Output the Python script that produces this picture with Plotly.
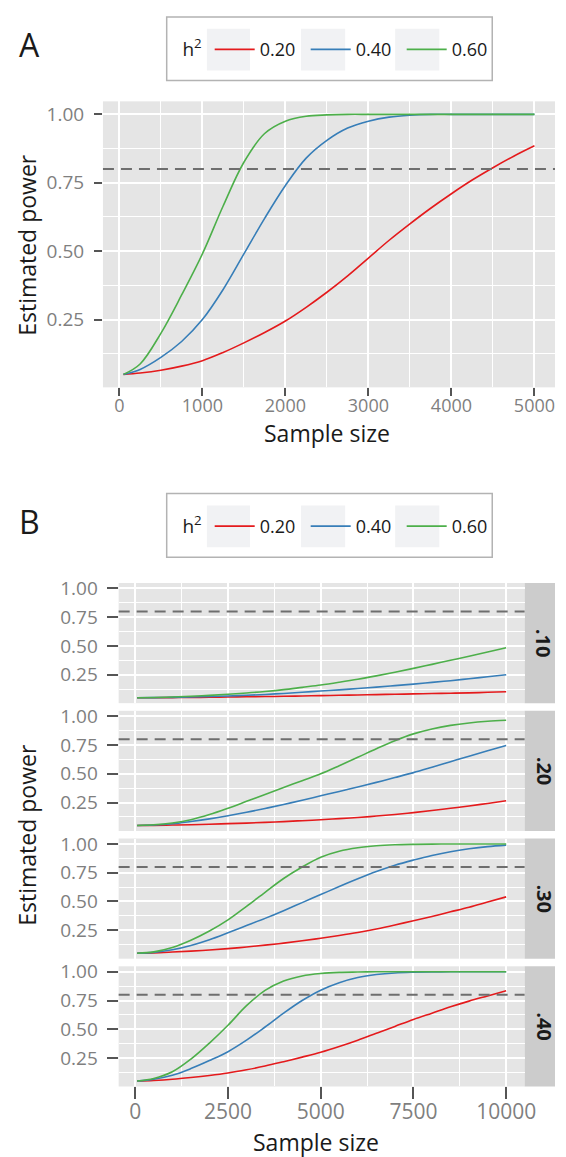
import plotly.graph_objects as go

# ---------------- data ----------------
h2_levels = ["0.20", "0.40", "0.60"]
line_colors = ["#E41A1C", "#377EB8", "#4DAF4A"]
power_threshold = 0.8

# Panel A
sample_size_a = [50, 250, 500, 750, 1000, 1250, 1500, 1750, 2000, 2250, 2500,
                 2750, 3000, 3250, 3500, 3750, 4000, 4250, 4500, 4750, 5000]
power_a_020 = [0.05, 0.055, 0.065, 0.08, 0.10, 0.13, 0.165, 0.203, 0.245, 0.295, 0.35,
               0.41, 0.475, 0.54, 0.60, 0.657, 0.71, 0.76, 0.805, 0.847, 0.885]
power_a_040 = [0.05, 0.068, 0.112, 0.17, 0.25, 0.36, 0.49, 0.62, 0.74, 0.84, 0.905,
               0.95, 0.975, 0.99, 0.997, 1.0, 1.0, 1.0, 1.0, 1.0, 1.0]
power_a_060 = [0.05, 0.088, 0.20, 0.34, 0.49, 0.665, 0.825, 0.93, 0.975, 0.993, 0.998,
               1.0, 1.0, 1.0, 1.0, 1.0, 1.0, 1.0, 1.0, 1.0, 1.0]

# Panel B
facet_labels = [".10", ".20", ".30", ".40"]
sample_size_b = [50, 500, 1000, 1500, 2000, 2500, 3000, 3500, 4000, 4500, 5000,
                 5500, 6000, 6500, 7000, 7500, 8000, 8500, 9000, 9500, 10000]

power_b10_020 = [0.05, 0.05, 0.051, 0.052, 0.054, 0.056, 0.058, 0.06, 0.062, 0.065, 0.068,
                 0.071, 0.074, 0.077, 0.08, 0.083, 0.086, 0.089, 0.092, 0.097, 0.102]
power_b10_040 = [0.05, 0.051, 0.053, 0.056, 0.06, 0.065, 0.071, 0.078, 0.087, 0.097, 0.108,
                 0.118, 0.13, 0.142, 0.155, 0.168, 0.183, 0.198, 0.215, 0.232, 0.25]
power_b10_060 = [0.05, 0.052, 0.056, 0.062, 0.07, 0.08, 0.091, 0.104, 0.12, 0.14, 0.16,
                 0.184, 0.21, 0.24, 0.272, 0.305, 0.34, 0.375, 0.41, 0.447, 0.485]

power_b20_020 = [0.05, 0.051, 0.054, 0.057, 0.061, 0.066, 0.071, 0.077, 0.084, 0.092, 0.10,
                 0.11, 0.12, 0.132, 0.146, 0.162, 0.18, 0.2, 0.22, 0.242, 0.265]
power_b20_040 = [0.05, 0.054, 0.065, 0.085, 0.108, 0.135, 0.165, 0.198, 0.233, 0.27, 0.308,
                 0.346, 0.385, 0.425, 0.467, 0.51, 0.557, 0.605, 0.653, 0.70, 0.745]
power_b20_060 = [0.05, 0.056, 0.072, 0.10, 0.145, 0.2, 0.26, 0.32, 0.38, 0.44, 0.5,
                 0.57, 0.643, 0.718, 0.788, 0.847, 0.89, 0.921, 0.942, 0.956, 0.965]

power_b30_020 = [0.05, 0.053, 0.06, 0.068, 0.078, 0.09, 0.104, 0.12, 0.138, 0.158, 0.18,
                 0.204, 0.23, 0.26, 0.295, 0.333, 0.37, 0.41, 0.45, 0.495, 0.54]
power_b30_040 = [0.05, 0.057, 0.08, 0.118, 0.168, 0.228, 0.29, 0.353, 0.42, 0.49, 0.56,
                 0.63, 0.697, 0.76, 0.815, 0.86, 0.9, 0.933, 0.958, 0.977, 0.99]
power_b30_060 = [0.05, 0.062, 0.10, 0.163, 0.243, 0.34, 0.458, 0.58, 0.70, 0.80, 0.885,
                 0.937, 0.967, 0.984, 0.993, 0.997, 0.999, 1.0, 1.0, 1.0, 1.0]

power_b40_020 = [0.05, 0.055, 0.065, 0.08, 0.098, 0.12, 0.148, 0.18, 0.218, 0.258, 0.30,
                 0.35, 0.405, 0.465, 0.525, 0.585, 0.64, 0.695, 0.745, 0.79, 0.835]
power_b40_040 = [0.05, 0.066, 0.10, 0.158, 0.228, 0.305, 0.405, 0.52, 0.64, 0.75, 0.84,
                 0.905, 0.95, 0.976, 0.99, 0.996, 0.999, 1.0, 1.0, 1.0, 1.0]
power_b40_060 = [0.05, 0.072, 0.13, 0.24, 0.38, 0.535, 0.705, 0.838, 0.92, 0.964, 0.985,
                 0.995, 0.998, 1.0, 1.0, 1.0, 1.0, 1.0, 1.0, 1.0, 1.0]

power_b = [
    [power_b10_020, power_b10_040, power_b10_060],
    [power_b20_020, power_b20_040, power_b20_060],
    [power_b30_020, power_b30_040, power_b30_060],
    [power_b40_020, power_b40_040, power_b40_060],
]
power_a = [power_a_020, power_a_040, power_a_060]

y_ticks = [0.25, 0.50, 0.75, 1.00]
y_ticktext = ["0.25", "0.50", "0.75", "1.00"]
y_minor = [0.125, 0.375, 0.625, 0.875]
x_ticks_a = [0, 1000, 2000, 3000, 4000, 5000]
x_ticktext_a = ["0", "1000", "2000", "3000", "4000", "5000"]
x_minor_a = [500, 1500, 2500, 3500, 4500]
x_ticks_b = [0, 2500, 5000, 7500, 10000]
x_ticktext_b = ["0", "2500", "5000", "7500", "10000"]
x_minor_b = [1250, 3750, 6250, 8750]

# ---------------- layout helpers ----------------
W, H = 566, 1157
FONT = "Open Sans"
PANEL_BG = "#e5e5e5"
TICK_COL = "#7f7f7f"


def fx(p):
    return p / W


def fy(p):
    return 1 - p / H


def expand(lo, hi, frac=0.05):
    d = (hi - lo) * frac
    return [lo - d, hi + d]


fig = go.Figure()

# Panel A traces
for lvl, col, vals in zip(h2_levels, line_colors, power_a):
    fig.add_trace(go.Scatter(
        x=sample_size_a, y=vals, mode="lines", name=lvl,
        line=dict(color=col, width=1.6, shape="spline", smoothing=1.0),
        xaxis="x", yaxis="y", legend="legend", showlegend=True,
        hoverinfo="skip"))

# Panel B traces
for i, facet in enumerate(power_b):
    ax = str(i + 2)
    for lvl, col, vals in zip(h2_levels, line_colors, facet):
        fig.add_trace(go.Scatter(
            x=sample_size_b, y=vals, mode="lines", name=lvl,
            line=dict(color=col, width=1.6, shape="spline", smoothing=1.0),
            xaxis="x" + ax, yaxis="y" + ax, legend="legend2",
            showlegend=(i == 0), hoverinfo="skip"))

yr = expand(0.05, 1.0)
xr_a = expand(50, 5000)
xr_b = expand(50, 10000)

common_y = dict(
    range=yr, tickvals=y_ticks, ticktext=y_ticktext, showgrid=True,
    gridcolor="white", gridwidth=2, zeroline=False, showline=False,
    ticks="outside", tickcolor="#555555", tickwidth=1.5,
    tickfont=dict(family=FONT, size=19, color=TICK_COL),
    minor=dict(tickvals=y_minor, showgrid=True, gridcolor="white",
               gridwidth=1, ticks=""),
    fixedrange=True,
)

layout = dict(
    width=W, height=H, margin=dict(l=0, r=0, t=0, b=0),
    paper_bgcolor="white", plot_bgcolor=PANEL_BG,
    font=dict(family=FONT, color="#1a1a1a"),
    xaxis=dict(domain=[fx(105), 1.0], range=xr_a, tickvals=x_ticks_a,
               ticktext=x_ticktext_a,
               showgrid=True, gridcolor="white", gridwidth=2, zeroline=False,
               ticks="outside", ticklen=8, tickcolor="#555555", tickwidth=1.5,
               ticklabelstandoff=-6,
               tickfont=dict(family=FONT, size=18, color=TICK_COL),
               minor=dict(tickvals=x_minor_a, showgrid=True, gridcolor="white",
                          gridwidth=1, ticks=""),
               anchor="y", fixedrange=True),
    yaxis=dict(domain=[fy(382), fy(94)], anchor="x", ticklen=8,
               ticklabelstandoff=6, **common_y),
)

facet_tops = [579, 707.7, 836.3, 965]
facet_h = 121
for i, top in enumerate(facet_tops):
    ax = str(i + 2)
    bottom = top + facet_h
    last = (i == 3)
    layout["xaxis" + ax] = dict(
        domain=[fx(121), fx(535)], range=xr_b, tickvals=x_ticks_b,
        ticktext=x_ticktext_b,
        showgrid=True, gridcolor="white", gridwidth=2, zeroline=False,
        ticks="outside" if last else "", ticklen=12, tickcolor="#555555",
        tickwidth=1.5, showticklabels=last, ticklabelstandoff=-6,
        tickfont=dict(family=FONT, size=21, color=TICK_COL),
        minor=dict(tickvals=x_minor_b, showgrid=True, gridcolor="white",
                   gridwidth=1, ticks=""),
        anchor="y" + ax, fixedrange=True)
    layout["yaxis" + ax] = dict(domain=[fy(bottom), fy(top)], anchor="x" + ax,
                                ticklen=11, ticklabelstandoff=5, **common_y)

fig.update_layout(**layout)

shapes = []
annotations = []

# threshold lines
for xa, ya in [("x", "y")] + [("x" + str(i + 2), "y" + str(i + 2)) for i in range(4)]:
    shapes.append(dict(type="line", xref=xa + " domain", yref=ya, x0=0, x1=1,
                       y0=power_threshold, y1=power_threshold,
                       line=dict(color="#6e6e6e", width=2, dash="11px,7px"),
                       layer="above"))

# facet strips
for i, top in enumerate(facet_tops):
    shapes.append(dict(type="rect", xref="paper", yref="paper",
                       x0=fx(535), x1=1.0, y0=fy(top + facet_h), y1=fy(top),
                       fillcolor="#cccccc", line=dict(width=0), layer="below"))
    annotations.append(dict(text="<b>" + facet_labels[i] + "</b>", xref="paper",
                            yref="paper", x=fx(555), y=fy(top + facet_h / 2),
                            showarrow=False, textangle=90,
                            font=dict(family=FONT, size=20, color="#1a1a1a"),
                            xanchor="center", yanchor="middle"))

# legend frames and key backgrounds
for top in [9, 489]:
    shapes.append(dict(type="rect", xref="paper", yref="paper",
                       x0=fx(170), x1=fx(502), y0=fy(top + 64), y1=fy(top),
                       fillcolor="white", line=dict(color="#b3b3b3", width=1.5),
                       layer="below"))
    for kx0, kx1 in [(211, 255), (307, 352), (403, 448)]:
        shapes.append(dict(type="rect", xref="paper", yref="paper",
                           x0=fx(kx0), x1=fx(kx1), y0=fy(top + 54), y1=fy(top + 12),
                           fillcolor="#f1f2f4", line=dict(width=0), layer="below"))

legend_common = dict(orientation="h", xanchor="left", yanchor="middle",
                     bgcolor="rgba(0,0,0,0)", borderwidth=0,
                     font=dict(family=FONT, size=18, color="#1a1a1a"),
                     title=dict(text="h<sup>2</sup>",
                                font=dict(family=FONT, size=19, color="#1a1a1a")),
                     itemwidth=40,
                     entrywidth=41, entrywidthmode="pixels", itemclick=False,
                     itemdoubleclick=False)
fig.update_layout(
    legend=dict(x=fx(184), y=fy(42), **legend_common),
    legend2=dict(x=fx(184), y=fy(522), **legend_common),
)

# panel letters
annotations.append(dict(text="A", xref="paper", yref="paper", x=fx(17), y=fy(37),
                        showarrow=False, xanchor="left", yanchor="middle",
                        font=dict(family=FONT, size=32, color="#1a1a1a")))
annotations.append(dict(text="B", xref="paper", yref="paper", x=fx(17), y=fy(517),
                        showarrow=False, xanchor="left", yanchor="middle",
                        font=dict(family=FONT, size=32, color="#1a1a1a")))

# axis titles
for yc in [238, 832]:
    annotations.append(dict(text="Estimated power", xref="paper", yref="paper",
                            x=fx(28), y=fy(yc), showarrow=False, textangle=-90,
                            xanchor="center", yanchor="middle",
                            font=dict(family=FONT, size=23, color="#1a1a1a")))
for xc, yc in [(333, 428), (322, 1142)]:
    annotations.append(dict(text="Sample size", xref="paper", yref="paper",
                            x=fx(xc), y=fy(yc), showarrow=False,
                            xanchor="center", yanchor="middle",
                            font=dict(family=FONT, size=23, color="#1a1a1a")))

fig.update_layout(shapes=shapes, annotations=annotations)
fig.write_html(
    "out.html",
    config={"displayModeBar": False, "staticPlot": False},
    post_script="document.body.style.margin='0';document.body.style.overflow='hidden';",
)
